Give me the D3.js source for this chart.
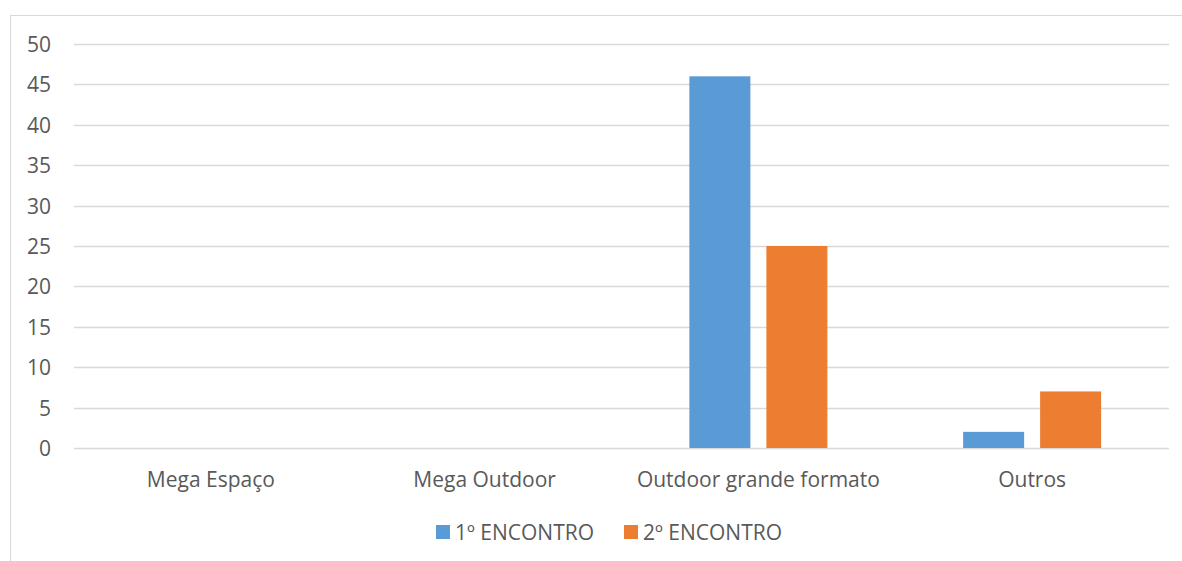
<!DOCTYPE html>
<html><head><meta charset="utf-8">
<script src="https://cdn.jsdelivr.net/npm/d3@7"></script>
<style>body{margin:0;background:#fff;} svg{display:block;}</style>
</head><body>
<svg id="c" width="1182" height="561"></svg>
<script>
const categories = ["Mega Espaço", "Mega Outdoor", "Outdoor grande formato", "Outros"];
const seriesNames = ["1º ENCONTRO", "2º ENCONTRO"];
const encontro1 = [0, 0, 46, 2];
const encontro2 = [0, 0, 25, 7];
const yTicks = [0, 5, 10, 15, 20, 25, 30, 35, 40, 45, 50];
const colors = ["#5B9BD5", "#ED7D31"];

(function () {
const svg = d3.select("#c");
const font = "'Open Sans', sans-serif";
const textColor = "#595959";
const fs = 21;

svg.append("rect").attr("x", 10.5).attr("y", 15.5).attr("width", 1200).attr("height", 600)
  .attr("fill", "#fff").attr("stroke", "#d9d9d9").attr("stroke-width", 1);

const mL = 74, mR = 1169, mT = 44, mB = 448;
const x = d3.scaleBand().domain(categories).range([mL, mR]).paddingInner(0).paddingOuter(0);
const y = d3.scaleLinear().domain([0, 50]).range([mB, mT]);

const grid = svg.append("g");
grid.selectAll("line").data(yTicks).join("line")
  .attr("x1", mL).attr("x2", mR)
  .attr("y1", d => Math.round(y(d)) + 0.5).attr("y2", d => Math.round(y(d)) + 0.5)
  .attr("stroke", "#d9d9d9").attr("stroke-width", 1.5);

const yAxis = d3.axisLeft(y).tickValues(yTicks).tickSize(0).tickPadding(0);
const ya = svg.append("g").attr("transform", `translate(51,0)`).call(yAxis);
ya.select(".domain").remove();
ya.selectAll("text").attr("font-family", font).attr("font-size", fs).attr("fill", textColor).attr("dy", "0.36em");

const xAxis = d3.axisBottom(x).tickSize(0).tickPadding(0);
const xa = svg.append("g").attr("transform", `translate(0,479)`).call(xAxis);
xa.select(".domain").remove();
xa.selectAll("text").attr("font-family", font).attr("font-size", fs).attr("fill", textColor)
  .attr("y", 0).attr("dy", "0.36em");

const bw = 61, gap = 16;
const series = [encontro1, encontro2];
series.forEach((vals, si) => {
  svg.append("g").selectAll("rect").data(vals).join("rect")
    .attr("x", (d, i) => x(categories[i]) + x.bandwidth() / 2 - (2 * bw + gap) / 2 + si * (bw + gap))
    .attr("width", bw)
    .attr("y", d => y(d))
    .attr("height", d => mB - y(d))
    .attr("fill", colors[si]);
});

const leg = svg.append("g");
const legX = [436, 624];
seriesNames.forEach((n, i) => {
  leg.append("rect").attr("x", legX[i]).attr("y", 525).attr("width", 14).attr("height", 14).attr("fill", colors[i]);
  leg.append("text").attr("x", legX[i] + 19).attr("y", 532).attr("dy", "0.36em")
    .attr("font-family", font).attr("font-size", fs).attr("fill", textColor).text(n);
});
})();
</script>
</body></html>
